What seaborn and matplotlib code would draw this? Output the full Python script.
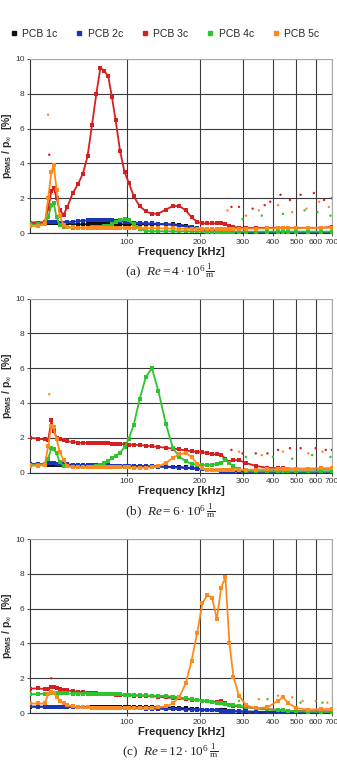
import matplotlib
matplotlib.use("Agg")
import matplotlib.pyplot as plt
import seaborn as sns
import pandas as pd
from matplotlib.lines import Line2D
from matplotlib.ticker import FixedLocator, FixedFormatter, NullFormatter, MultipleLocator

# frequency grid [kHz] shared by all traces
freq = [40, 43, 46, 47.5, 49, 50, 51.5, 53, 55, 57,
        60, 63, 66, 69, 72, 75, 78, 81, 84, 87,
        90, 94, 98, 102, 107, 113, 120, 127, 135, 145,
        155, 165, 175, 185, 195, 205, 215, 225, 235, 245,
        255, 265, 275, 290, 310, 340, 380, 420, 440, 460,
        500, 560, 630, 700]

sensors = ["PCB 1c", "PCB 2c", "PCB 3c", "PCB 4c", "PCB 5c"]
colors = ["#111111", "#1a35b8", "#d42020", "#2ec42e", "#ff8a1c"]

# (a) Re = 4e6
a_1c = [0.55, 0.55, 0.55, 0.55, 0.55, 0.55, 0.55, 0.55, 0.55, 0.52,
        0.52, 0.5, 0.5, 0.5, 0.5, 0.5, 0.5, 0.5, 0.5, 0.5,
        0.5, 0.5, 0.5, 0.5, 0.5, 0.5, 0.5, 0.5, 0.5, 0.5,
        0.5, 0.47, 0.42, 0.35, 0.27, 0.2, 0.15, 0.12, 0.1, 0.08,
        0.07, 0.06, 0.05, 0.05, 0.05, 0.05, 0.05, 0.05, 0.05, 0.05,
        0.05, 0.05, 0.05, 0.05]
a_2c = [0.6, 0.6, 0.6, 0.62, 0.65, 0.65, 0.62, 0.6, 0.6, 0.62,
        0.65, 0.68, 0.7, 0.72, 0.74, 0.75, 0.76, 0.75, 0.74, 0.72,
        0.7, 0.68, 0.66, 0.63, 0.6, 0.58, 0.56, 0.55, 0.53, 0.5,
        0.46, 0.42, 0.37, 0.32, 0.27, 0.22, 0.18, 0.15, 0.12, 0.1,
        0.08, 0.06, 0.05, 0.05, 0.04, 0.04, 0.04, 0.04, 0.04, 0.04,
        0.04, 0.04, 0.04, 0.04]
a_3c = [0.6, 0.6, 0.62, 1.4, 2.4, 2.6, 2.0, 1.3, 1.05, 1.5,
        2.3, 2.8, 3.4, 4.4, 6.2, 8.0, 9.5, 9.3, 9.0, 7.8,
        6.5, 4.7, 3.5, 2.9, 2.1, 1.55, 1.25, 1.1, 1.12, 1.35,
        1.55, 1.55, 1.3, 0.9, 0.65, 0.55, 0.55, 0.55, 0.55, 0.6,
        0.5, 0.4, 0.35, 0.3, 0.3, 0.3, 0.3, 0.3, 0.3, 0.3,
        0.3, 0.3, 0.3, 0.35]
a_4c = [0.5, 0.5, 0.55, 0.9, 1.6, 1.75, 0.9, 0.45, 0.35, 0.32,
        0.3, 0.3, 0.3, 0.3, 0.32, 0.33, 0.35, 0.38, 0.42, 0.5,
        0.65, 0.75, 0.8, 0.72, 0.5, 0.25, 0.12, 0.1, 0.1, 0.1,
        0.1, 0.1, 0.1, 0.1, 0.09, 0.09, 0.08, 0.08, 0.08, 0.08,
        0.08, 0.08, 0.08, 0.08, 0.08, 0.08, 0.08, 0.08, 0.08, 0.08,
        0.08, 0.08, 0.08, 0.08]
a_5c = [0.4, 0.4, 0.5, 2.0, 3.5, 3.9, 2.5, 1.0, 0.45, 0.35,
        0.32, 0.3, 0.3, 0.3, 0.3, 0.3, 0.3, 0.3, 0.3, 0.3,
        0.3, 0.3, 0.3, 0.3, 0.28, 0.28, 0.28, 0.27, 0.27, 0.26,
        0.26, 0.25, 0.25, 0.25, 0.25, 0.24, 0.22, 0.22, 0.22, 0.22,
        0.22, 0.22, 0.24, 0.25, 0.25, 0.25, 0.26, 0.27, 0.27, 0.28,
        0.28, 0.28, 0.3, 0.3]

# (b) Re = 6e6
b_1c = [0.42, 0.42, 0.42, 0.42, 0.42, 0.42, 0.42, 0.42, 0.4, 0.4,
        0.4, 0.4, 0.38, 0.38, 0.38, 0.38, 0.37, 0.37, 0.37, 0.37,
        0.37, 0.36, 0.36, 0.36, 0.36, 0.36, 0.35, 0.35, 0.35, 0.34,
        0.33, 0.31, 0.29, 0.26, 0.23, 0.2, 0.17, 0.14, 0.12, 0.1,
        0.08, 0.07, 0.06, 0.05, 0.05, 0.05, 0.05, 0.05, 0.05, 0.05,
        0.05, 0.05, 0.05, 0.05]
b_2c = [0.5, 0.5, 0.5, 0.52, 0.55, 0.52, 0.5, 0.5, 0.48, 0.47,
        0.45, 0.44, 0.43, 0.43, 0.42, 0.42, 0.42, 0.41, 0.41, 0.4,
        0.4, 0.4, 0.4, 0.4, 0.39, 0.38, 0.37, 0.35, 0.34, 0.32,
        0.3, 0.28, 0.26, 0.24, 0.22, 0.2, 0.17, 0.15, 0.13, 0.11,
        0.1, 0.09, 0.08, 0.07, 0.06, 0.05, 0.05, 0.04, 0.04, 0.04,
        0.04, 0.04, 0.04, 0.04]
b_3c = [2.0, 1.95, 1.9, 1.85, 3.0, 2.4, 2.0, 1.9, 1.85, 1.8,
        1.75, 1.72, 1.7, 1.7, 1.7, 1.7, 1.7, 1.68, 1.68, 1.66,
        1.65, 1.65, 1.63, 1.6, 1.6, 1.58, 1.55, 1.5, 1.48, 1.42,
        1.38, 1.33, 1.27, 1.22, 1.2, 1.17, 1.12, 1.05, 1.05, 1.02,
        0.8, 0.6, 0.72, 0.7, 0.55, 0.38, 0.27, 0.25, 0.24, 0.23,
        0.22, 0.22, 0.22, 0.22]
b_4c = [0.45, 0.45, 0.5, 0.8, 1.4, 1.35, 1.1, 0.6, 0.4, 0.35,
        0.32, 0.3, 0.3, 0.3, 0.32, 0.35, 0.42, 0.52, 0.65, 0.84,
        0.95, 1.15, 1.45, 1.95, 2.75, 4.2, 5.5, 6.0, 4.7, 2.8,
        1.4, 0.9, 0.65, 0.5, 0.45, 0.43, 0.43, 0.45, 0.5, 0.55,
        0.72, 0.55, 0.35, 0.18, 0.1, 0.08, 0.07, 0.06, 0.06, 0.06,
        0.06, 0.06, 0.06, 0.06]
b_5c = [0.4, 0.4, 0.45, 1.5, 2.7, 2.6, 1.9, 1.2, 0.7, 0.4,
        0.32, 0.3, 0.3, 0.3, 0.3, 0.3, 0.3, 0.3, 0.3, 0.3,
        0.3, 0.3, 0.3, 0.3, 0.28, 0.28, 0.28, 0.3, 0.35, 0.55,
        0.85, 1.05, 1.12, 0.9, 0.5, 0.25, 0.15, 0.12, 0.12, 0.13,
        0.13, 0.14, 0.15, 0.15, 0.16, 0.17, 0.18, 0.2, 0.2, 0.2,
        0.22, 0.22, 0.24, 0.25]

# (c) Re = 12e6
c_1c = [0.36, 0.36, 0.36, 0.36, 0.36, 0.36, 0.36, 0.36, 0.35, 0.35,
        0.35, 0.35, 0.35, 0.35, 0.35, 0.35, 0.35, 0.35, 0.35, 0.35,
        0.35, 0.35, 0.35, 0.35, 0.35, 0.35, 0.35, 0.35, 0.34, 0.33,
        0.31, 0.29, 0.27, 0.24, 0.22, 0.2, 0.19, 0.18, 0.18, 0.18,
        0.15, 0.12, 0.1, 0.08, 0.07, 0.06, 0.05, 0.05, 0.05, 0.05,
        0.05, 0.05, 0.05, 0.05]
c_2c = [0.38, 0.37, 0.37, 0.36, 0.36, 0.35, 0.35, 0.35, 0.34, 0.34,
        0.33, 0.33, 0.32, 0.32, 0.31, 0.31, 0.3, 0.3, 0.3, 0.29,
        0.29, 0.29, 0.28, 0.28, 0.27, 0.27, 0.26, 0.25, 0.24, 0.23,
        0.22, 0.21, 0.2, 0.19, 0.18, 0.17, 0.16, 0.15, 0.15, 0.14,
        0.13, 0.12, 0.12, 0.11, 0.1, 0.08, 0.07, 0.06, 0.06, 0.05,
        0.05, 0.04, 0.04, 0.04]
c_3c = [1.4, 1.42, 1.38, 1.4, 1.5, 1.5, 1.45, 1.4, 1.35, 1.3,
        1.25, 1.22, 1.2, 1.18, 1.15, 1.13, 1.12, 1.1, 1.1, 1.08,
        1.06, 1.05, 1.03, 1.02, 1.0, 1.0, 0.98, 0.96, 0.94, 0.9,
        0.87, 0.84, 0.8, 0.77, 0.74, 0.72, 0.68, 0.65, 0.65, 0.68,
        0.55, 0.45, 0.42, 0.38, 0.33, 0.28, 0.22, 0.18, 0.15, 0.13,
        0.12, 0.1, 0.1, 0.1]
c_4c = [1.08, 1.1, 1.1, 1.12, 1.15, 1.15, 1.15, 1.15, 1.13, 1.13,
        1.12, 1.12, 1.12, 1.12, 1.12, 1.12, 1.12, 1.11, 1.1, 1.1,
        1.08, 1.07, 1.06, 1.05, 1.04, 1.03, 1.02, 1.0, 0.99, 0.98,
        0.95, 0.9, 0.84, 0.8, 0.76, 0.72, 0.67, 0.62, 0.58, 0.55,
        0.52, 0.49, 0.46, 0.42, 0.36, 0.28, 0.21, 0.17, 0.15, 0.13,
        0.1, 0.08, 0.07, 0.06]
c_5c = [0.55, 0.55, 0.55, 1.1, 1.2, 1.15, 0.95, 0.7, 0.55, 0.45,
        0.38, 0.35, 0.33, 0.32, 0.31, 0.3, 0.3, 0.3, 0.3, 0.3,
        0.3, 0.3, 0.3, 0.3, 0.3, 0.3, 0.3, 0.3, 0.32, 0.38,
        0.55, 0.95, 1.7, 3.0, 4.6, 6.3, 6.8, 6.6, 5.4, 7.2,
        7.8, 4.0, 2.1, 1.0, 0.45, 0.28, 0.33, 0.7, 0.93, 0.6,
        0.28, 0.2, 0.22, 0.25]

# isolated spikes
spk_a_f = [47.5, 48, 270, 290, 330, 370, 390, 430, 470, 520, 590, 650, 700,
           260, 310, 350, 420, 480, 550, 620, 680, 300, 360, 440, 540, 610, 690]
spk_a_v = [6.8, 4.5, 1.5, 1.5, 1.4, 1.6, 1.8, 2.2, 1.9, 2.2, 2.3, 1.9, 2.0,
           1.3, 1.0, 1.3, 1.6, 1.2, 1.4, 1.8, 1.5, 0.8, 1.0, 1.1, 1.3, 1.2, 1.0]
spk_a_s = ["PCB 5c", "PCB 3c"] + ["PCB 3c"] * 11 + ["PCB 5c"] * 8 + ["PCB 4c"] * 6
spk_b_f = [48, 270, 300, 340, 380, 420, 470, 520, 600, 660, 700,
           290, 360, 440, 560, 640, 250, 310, 400, 480, 580, 690]
spk_b_v = [4.5, 1.3, 1.1, 1.1, 1.1, 1.3, 1.4, 1.4, 1.4, 1.3, 1.3,
           1.2, 1.0, 1.2, 1.1, 1.2, 0.8, 0.9, 0.9, 0.8, 1.0, 0.9]
spk_b_s = ["PCB 5c"] + ["PCB 3c"] * 10 + ["PCB 5c"] * 5 + ["PCB 4c"] * 6
spk_c_f = [49, 350, 420, 480, 530, 600, 670, 290, 380, 520, 640]
spk_c_v = [2.0, 0.8, 1.0, 0.9, 0.7, 0.7, 0.6, 0.7, 0.8, 0.6, 0.6]
spk_c_s = ["PCB 3c"] + ["PCB 5c"] * 6 + ["PCB 4c"] * 4

panels = [
    ("(a)", "4", [a_1c, a_2c, a_3c, a_4c, a_5c], spk_a_f, spk_a_v, spk_a_s),
    ("(b)", "6", [b_1c, b_2c, b_3c, b_4c, b_5c], spk_b_f, spk_b_v, spk_b_s),
    ("(c)", "12", [c_1c, c_2c, c_3c, c_4c, c_5c], spk_c_f, spk_c_v, spk_c_s),
]

sns.set_theme(style="white")
plt.rcParams["font.family"] = ["Liberation Sans", "DejaVu Sans"]
plt.rcParams["mathtext.fontset"] = "custom"
plt.rcParams["mathtext.rm"] = "Liberation Serif"
plt.rcParams["mathtext.it"] = "Liberation Serif:italic"
plt.rcParams["mathtext.bf"] = "Liberation Sans:bold"

palette = dict(zip(sensors, colors))
fig = plt.figure(figsize=(3.37, 7.65), dpi=100)
tops = [0.9229, 0.6098, 0.2954]
h = 0.2275

for (tag, re, series, sf, sv, ss), top in zip(panels, tops):
    ax = fig.add_axes([0.089, top - h, 0.896, h])
    df = pd.DataFrame({
        "freq": freq * 5,
        "val": sum(series, []),
        "sensor": [s for s in sensors for _ in freq],
    })
    spikes = pd.DataFrame({"freq": sf, "val": sv, "sensor": ss})
    sns.scatterplot(data=spikes, x="freq", y="val", hue="sensor", palette=palette,
                    marker="o", s=3, linewidth=0, legend=False, ax=ax, zorder=3)
    sns.lineplot(data=df, x="freq", y="val", hue="sensor", hue_order=sensors,
                 palette=palette, linewidth=1.3, marker="s", markersize=2.2,
                 markeredgewidth=0, legend=False, ax=ax, zorder=4)
    ax.set_xscale("log")
    ax.set_xlim(40, 700)
    ax.set_ylim(0, 10)
    major = [100, 200, 300, 400, 500, 600, 700]
    ax.xaxis.set_major_locator(FixedLocator(major))
    ax.xaxis.set_major_formatter(FixedFormatter([str(m) for m in major]))
    ax.xaxis.set_minor_locator(FixedLocator([50, 60, 70, 80, 90, 150, 250, 350, 450, 550, 650]))
    ax.xaxis.set_minor_formatter(NullFormatter())
    ax.yaxis.set_major_locator(MultipleLocator(2))
    ax.yaxis.set_minor_locator(MultipleLocator(0.5))
    ax.tick_params(axis="both", which="major", direction="out", length=2.5, width=0.6,
                   labelsize=6, colors="#333333", pad=1.5)
    ax.tick_params(axis="both", which="minor", direction="out", length=1.5, width=0.5,
                   colors="#333333")
    ax.tick_params(left=True, bottom=True)
    ax.grid(True, which="major", color="#3a3a3a", linewidth=0.8)
    for side in ["top", "right"]:
        ax.spines[side].set_color("#aaaaaa")
    for side in ["left", "bottom"]:
        ax.spines[side].set_color("#333333")
    for sp in ax.spines.values():
        sp.set_linewidth(0.8)
    ax.set_xlabel("Frequency [kHz]", fontsize=8, fontweight="bold", labelpad=1)
    ax.set_ylabel(r"$\mathbf{p}_{\mathbf{RMS}}$ / $\mathbf{p}_{\infty}$  [%]",
                  fontsize=7.5, fontweight="bold", labelpad=1)
    fig.text(0.505, top - h - 0.0505,
             tag + r"  $Re = " + re + r" \cdot 10^6\,\frac{1}{\mathrm{m}}$",
             ha="center", va="center", fontsize=9.5, family="Liberation Serif")

handles = [Line2D([], [], marker="s", ls="", color=c, markersize=3.2) for c in colors]
fig.legend(handles, sensors, loc="center", bbox_to_anchor=(0.488, 0.956), ncol=5,
           frameon=False, fontsize=7.5, handlelength=0.8, handletextpad=0.4,
           columnspacing=1.7, borderaxespad=0)

fig.savefig("out.png", dpi=100)
